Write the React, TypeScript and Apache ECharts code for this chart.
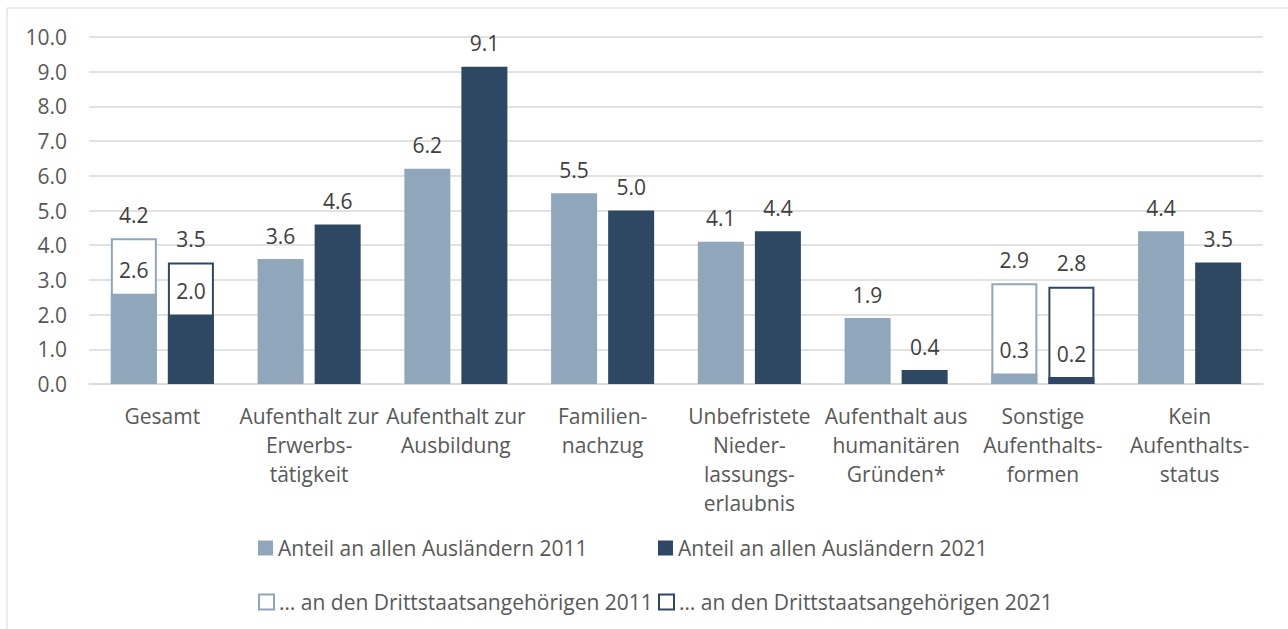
import React, { useEffect, useRef } from "react";
import * as echarts from "echarts";

const categories = [
  "Gesamt",
  "Aufenthalt zur\nErwerbs-\ntätigkeit",
  "Aufenthalt zur\nAusbildung",
  "Familien-\nnachzug",
  "Unbefristete\nNieder-\nlassungs-\nerlaubnis",
  "Aufenthalt aus\nhumanitären\nGründen*",
  "Sonstige\nAufenthalts-\nformen",
  "Kein\nAufenthalts-\nstatus",
];

const allForeigners2011 = [2.6, 3.6, 6.2, 5.5, 4.1, 1.9, 0.3, 4.4];
const allForeigners2021 = [2.0, 4.6, 9.14, 5.0, 4.4, 0.4, 0.2, 3.5];
const thirdCountry2011 = [4.2, null, null, null, null, null, 2.9, null];
const thirdCountry2021 = [3.5, null, null, null, null, null, 2.8, null];

const yTicks = { min: 0, max: 10, interval: 1 };

const NAME_A11 = "Anteil an allen Ausländern 2011";
const NAME_A21 = "Anteil an allen Ausländern 2021";
const NAME_D11 = "… an den Drittstaatsangehörigen 2011";
const NAME_D21 = "… an den Drittstaatsangehörigen 2021";

const LIGHT = "#8FA6BB";
const DARK = "#2E4863";
const FONT = "Open Sans";
const FS = 21;

export default function App() {
  const ref = useRef<HTMLDivElement>(null);
  useEffect(() => {
    document.body.style.margin = "0";
    const chart = echarts.init(ref.current!, undefined, { renderer: "svg" });
    const label = {
      show: true,
      position: "top" as const,
      distance: 13,
      color: "#404040",
      fontSize: FS,
      fontFamily: FONT,
      formatter: (p: any) => (p.value == null ? "" : Number(p.value).toFixed(1)),
    };
    const legendBase = {
      orient: "horizontal" as const,
      itemWidth: 15,
      itemHeight: 15,
      itemGap: 0,
      padding: 0,
      icon: "rect",
      textStyle: { color: "#595959", fontSize: FS, fontFamily: FONT, lineHeight: 24 },
    };
    chart.setOption({
      animation: false,
      textStyle: { fontFamily: FONT },
      grid: { left: 89, right: 25, top: 37, bottom: 245, containLabel: false },
      legend: [
        { ...legendBase, left: 258, top: 536, data: [{ name: NAME_A11 }] },
        { ...legendBase, left: 658, top: 536, data: [{ name: NAME_A21 }] },
        {
          ...legendBase,
          left: 258,
          top: 590,
          data: [{ name: NAME_D11, itemStyle: { color: "#fff", borderColor: LIGHT, borderWidth: 2 } }],
        },
        {
          ...legendBase,
          left: 658,
          top: 590,
          data: [{ name: NAME_D21, itemStyle: { color: "#fff", borderColor: DARK, borderWidth: 2 } }],
        },
      ],
      xAxis: [
        {
          type: "category",
          data: categories,
          axisTick: { show: false },
          axisLine: { show: true, lineStyle: { color: "#D9D9D9", width: 1.5 } },
          axisLabel: {
            color: "#595959",
            fontSize: FS,
            fontFamily: FONT,
            lineHeight: 29,
            margin: 17,
            interval: 0,
          },
        },
        { type: "category", data: categories, show: false },
      ],
      yAxis: {
        type: "value",
        min: yTicks.min,
        max: yTicks.max,
        interval: yTicks.interval,
        axisLine: { show: false },
        axisTick: { show: false },
        splitLine: { lineStyle: { color: "#D9D9D9", width: 1.5 } },
        axisLabel: {
          color: "#595959",
          fontSize: FS,
          fontFamily: FONT,
          margin: 22,
          formatter: (v: number) => v.toFixed(1),
        },
      },
      series: [
        {
          name: NAME_D11,
          type: "bar",
          xAxisIndex: 1,
          data: thirdCountry2011,
          barWidth: 46,
          barGap: "24%",
          z: 1,
          itemStyle: { color: "#fff", borderColor: LIGHT, borderWidth: 2 },
          label,
        },
        {
          name: NAME_D21,
          type: "bar",
          xAxisIndex: 1,
          data: thirdCountry2021,
          barWidth: 46,
          barGap: "24%",
          z: 1,
          itemStyle: { color: "#fff", borderColor: DARK, borderWidth: 2 },
          label,
        },
        {
          name: NAME_A11,
          type: "bar",
          xAxisIndex: 0,
          data: allForeigners2011,
          barWidth: 46,
          barGap: "24%",
          z: 3,
          itemStyle: { color: LIGHT },
          label,
        },
        {
          name: NAME_A21,
          type: "bar",
          xAxisIndex: 0,
          data: allForeigners2021,
          barWidth: 46,
          barGap: "24%",
          z: 3,
          itemStyle: { color: DARK },
          label,
        },
      ],
      graphic: [
        {
          type: "polyline",
          silent: true,
          shape: { points: [[7, 629], [7, 8], [1288, 8]] },
          style: { stroke: "#D9D9D9", lineWidth: 1, fill: "none" },
        },
      ],
    });
    return () => chart.dispose();
  }, []);
  return (
    <div
      ref={ref}
      style={{ position: "absolute", left: 0, top: 0, width: 1288, height: 629, background: "#fff" }}
    />
  );
}
